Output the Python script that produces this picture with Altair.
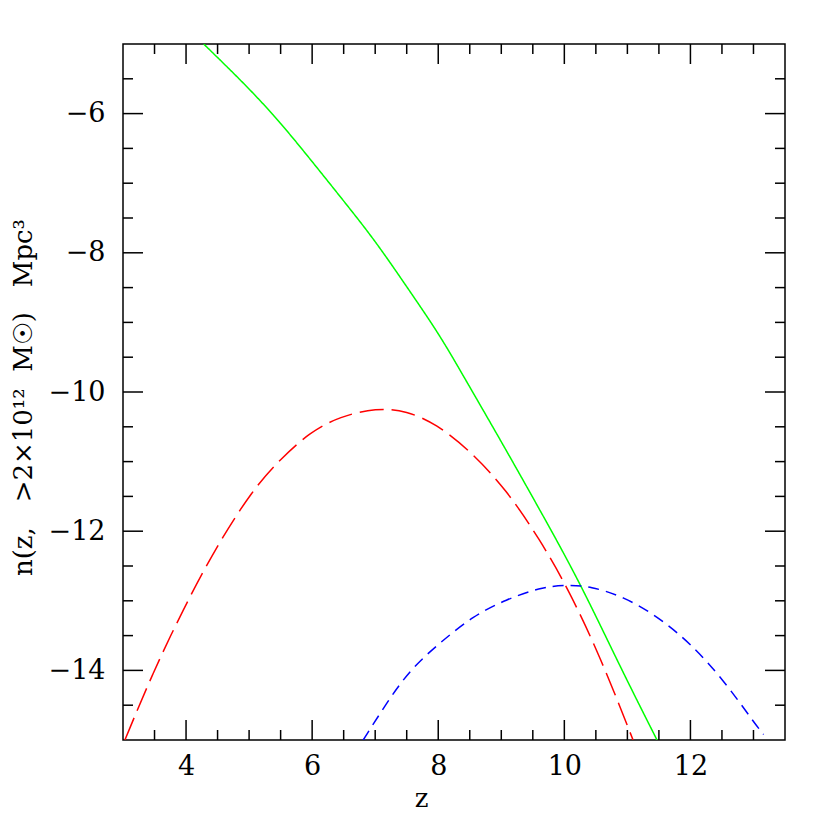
import altair as alt
import pandas as pd

# ---- data ----
green_z = [4.28, 4.96, 5.49, 6.01, 6.54, 7.02, 7.60, 8.03, 8.45, 8.98, 9.61, 10.25, 10.88, 11.47]
green_n = [-5.0, -5.60, -6.12, -6.70, -7.30, -7.85, -8.62, -9.19, -9.85, -10.68, -11.69, -12.74, -13.94, -15.0]

red_z = [3.03, 3.47, 3.95, 4.48, 5.06, 5.49, 5.96, 6.44, 7.02, 7.50, 7.97, 8.50, 9.08, 9.61, 10.04, 10.57, 11.09]
red_n = [-15.0, -14.04, -13.13, -12.22, -11.40, -10.97, -10.58, -10.35, -10.23, -10.27, -10.46, -10.84, -11.40, -12.12, -12.79, -13.80, -15.0]

blue_z = [6.81, 7.18, 7.55, 8.03, 8.55, 9.08, 9.61, 10.04, 10.41, 10.94, 11.47, 12.0, 12.52, 13.05, 13.16]
blue_n = [-15.0, -14.47, -13.99, -13.60, -13.22, -12.98, -12.81, -12.77, -12.79, -12.94, -13.22, -13.61, -14.13, -14.80, -14.92]

x_major = [4, 6, 8, 10, 12]
x_minor = [3.5, 4.5, 5, 5.5, 6.5, 7, 7.5, 8.5, 9, 9.5, 10.5, 11, 11.5, 12.5, 13]
y_major = [-14, -12, -10, -8, -6]
y_minor = [-14.5, -13.5, -13, -12.5, -11.5, -11, -10.5, -9.5, -9, -8.5, -7.5, -7, -6.5, -5.5]

W, H = 662, 696
FONT = "DejaVu Serif"
FS = 27
TFS = 26

rows = []
for name, zs, ns in [("green", green_z, green_n), ("red", red_z, red_n), ("blue", blue_z, blue_n)]:
    for i, (z, n) in enumerate(zip(zs, ns)):
        rows.append({"series": name, "z": z, "n": n, "i": i})
df = pd.DataFrame(rows)

xscale = alt.Scale(domain=[3, 13.5], nice=False, zero=False)
yscale = alt.Scale(domain=[-15, -5], nice=False, zero=False)

ytitle = "n(z,\u00a0\u00a0\u00a0>2\u00d710\u00b9\u00b2\u00a0\u00a0M\u2609)\u00a0\u00a0\u00a0Mpc\u00b3"

xaxis = alt.Axis(values=x_major, ticks=False, domain=False, grid=False, format="d",
                 labelFont=FONT, labelFontSize=FS, labelColor="black", labelPadding=13,
                 title="z", titleFont=FONT, titleFontSize=TFS, titleFontWeight="normal",
                 titleColor="black", titleX=298, titleY=58, titleBaseline="middle",
                 titleAlign="center")
yaxis = alt.Axis(values=y_major, ticks=False, domain=False, grid=False, format="d",
                 labelFont=FONT, labelFontSize=FS, labelColor="black", labelPadding=18,
                 title=ytitle, titleFont=FONT, titleFontSize=TFS, titleFontWeight="normal",
                 titleColor="black", titleX=-100, titleY=H / 2 + 5, titleAngle=270,
                 titleBaseline="middle", titleAlign="center")

lines = alt.Chart(df).mark_line(strokeWidth=1.5, clip=True, interpolate="basis").encode(
    x=alt.X("z:Q", scale=xscale, axis=xaxis, title=None),
    y=alt.Y("n:Q", scale=yscale, axis=yaxis, title=None),
    color=alt.Color("series:N", scale=alt.Scale(domain=["green", "red", "blue"],
                                                range=["#00ff00", "#ff0000", "#0000ff"]), legend=None),
    strokeDash=alt.StrokeDash("series:N", scale=alt.Scale(domain=["green", "red", "blue"],
                                                          range=[[1, 0], [24, 8], [11, 7]]), legend=None),
    order="i:Q",
)

def xticks(vals, length, top):
    d = pd.DataFrame({"z": vals})
    if top:
        yy, yy2 = 0, length
    else:
        yy, yy2 = H, H - length
    return alt.Chart(d).mark_rule(color="black", strokeWidth=1.5).encode(
        x=alt.X("z:Q", scale=xscale, axis=xaxis, title=None), y=alt.value(yy), y2=alt.value(yy2))

def yticks(vals, length, right):
    d = pd.DataFrame({"n": vals})
    if right:
        xx, xx2 = W, W - length
    else:
        xx, xx2 = 0, length
    return alt.Chart(d).mark_rule(color="black", strokeWidth=1.5).encode(
        y=alt.Y("n:Q", scale=yscale, axis=yaxis, title=None), x=alt.value(xx), x2=alt.value(xx2))

layers = [lines]
for top in (False, True):
    layers.append(xticks(x_major, 20, top))
    layers.append(xticks(x_minor, 10, top))
for right in (False, True):
    layers.append(yticks(y_major, 20, right))
    layers.append(yticks(y_minor, 10, right))

chart = alt.layer(*layers).properties(
    width=W, height=H,
    autosize=alt.AutoSizeParams(type="none"),
    padding={"left": 115, "top": 36, "right": 30, "bottom": 84},
    background="white",
).configure_view(stroke="black", strokeWidth=1.5)

chart.save("out.html", embed_options={"renderer": "svg", "actions": False})
